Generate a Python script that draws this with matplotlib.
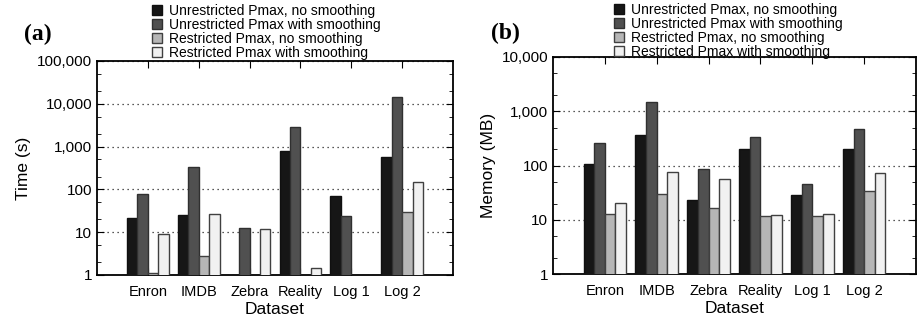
import numpy as np
import matplotlib
matplotlib.use("Agg")
import matplotlib.pyplot as plt
from matplotlib.ticker import FuncFormatter, LogLocator, NullFormatter

plt.rcParams['font.family'] = ['Liberation Sans', 'DejaVu Sans']

datasets = ["Enron", "IMDB", "Zebra", "Reality", "Log 1", "Log 2"]
series_names = ["Unrestricted Pmax, no smoothing",
                "Unrestricted Pmax with smoothing",
                "Restricted Pmax, no smoothing",
                "Restricted Pmax with smoothing"]

# Time (s); nan = no visible bar
time_unres_nosmooth = [21.8, 25, np.nan, 795, 69, 557]
time_unres_smooth = [77, 333, 12.6, 2840, 23.8, 14200]
time_res_nosmooth = [1.11, 2.8, np.nan, np.nan, np.nan, 29.5]
time_res_smooth = [9.2, 26.5, 11.9, 1.43, np.nan, 147]

# Memory (MB)
mem_unres_nosmooth = [109, 368, 23.2, 200, 28.7, 206]
mem_unres_smooth = [262, 1466, 85, 333, 45, 468]
mem_res_nosmooth = [13, 29.5, 16.3, 12, 11.6, 34]
mem_res_smooth = [20.4, 78, 56.4, 12.6, 13, 71.7]

face_colors = ["#161616", "#505050", "#b6b6b6", "#f1f1f1"]
edge_colors = ["#101010", "#303030", "#404040", "#404040"]

fig = plt.figure(figsize=(9.17, 3.24), dpi=100)
ax_a = fig.add_axes([97/917, 1-275/324, 356/917, 214/324])
ax_b = fig.add_axes([553/917, 1-274.3/324, 363/917, 217.3/324])


def draw(ax, series, ymax, ylabel, label_txt, label_pos, leg_anchor):
    x = np.arange(len(datasets))
    w = 0.205
    handles = []
    for i, vals in enumerate(series):
        b = ax.bar(x + (i - 1.5) * w, vals, width=w, bottom=0,
                   color=face_colors[i], edgecolor=edge_colors[i], linewidth=1.0,
                   label=series_names[i], zorder=3)
        handles.append(b)
    ax.set_yscale('log')
    ax.set_ylim(1, ymax)
    ax.set_xlim(-1, 6)
    ax.set_xticks(x)
    ax.set_xticklabels(datasets, fontsize=10.5)
    ax.yaxis.set_major_formatter(FuncFormatter(lambda v, p: f"{int(round(v)):,}"))
    ax.yaxis.set_minor_locator(LogLocator(base=10, subs=(2, 5)))
    ax.yaxis.set_minor_formatter(NullFormatter())
    ax.tick_params(axis='y', labelsize=11)
    ax.tick_params(which='both', direction='in', top=True, right=True)
    ax.tick_params(axis='x', which='major', length=5, width=0.8, pad=7)
    ax.tick_params(axis='y', which='major', length=5, width=0.8)
    ax.tick_params(axis='y', which='minor', length=3, width=0.6)
    ax.grid(axis='y', which='major', linestyle=(0, (1, 3)), color='#222222', linewidth=0.9, zorder=1)
    for s in ax.spines.values():
        s.set_linewidth(1.3)
    ax.set_xlabel("Dataset", fontsize=12.5, labelpad=2)
    ax.set_ylabel(ylabel, fontsize=12.5)
    fig.text(label_pos[0], label_pos[1], label_txt, fontsize=17, fontweight='bold',
             family='Liberation Serif', ha='left', va='center')
    fig.legend(handles=handles, loc='upper left', bbox_to_anchor=leg_anchor,
               bbox_transform=fig.transFigure, frameon=False, fontsize=10,
               handlelength=0.75, handleheight=0.75, handletextpad=0.5,
               labelspacing=0.0, borderpad=0, borderaxespad=0)


draw(ax_a, [time_unres_nosmooth, time_unres_smooth, time_res_nosmooth, time_res_smooth],
     100000, "Time (s)", "(a)", (24/917, 1-34/324), (152/917, 1-4/324))
draw(ax_b, [mem_unres_nosmooth, mem_unres_smooth, mem_res_nosmooth, mem_res_smooth],
     10000, "Memory (MB)", "(b)", (491/917, 1-33/324), (614/917, 1-3/324))

fig.savefig("out.png", dpi=100)
